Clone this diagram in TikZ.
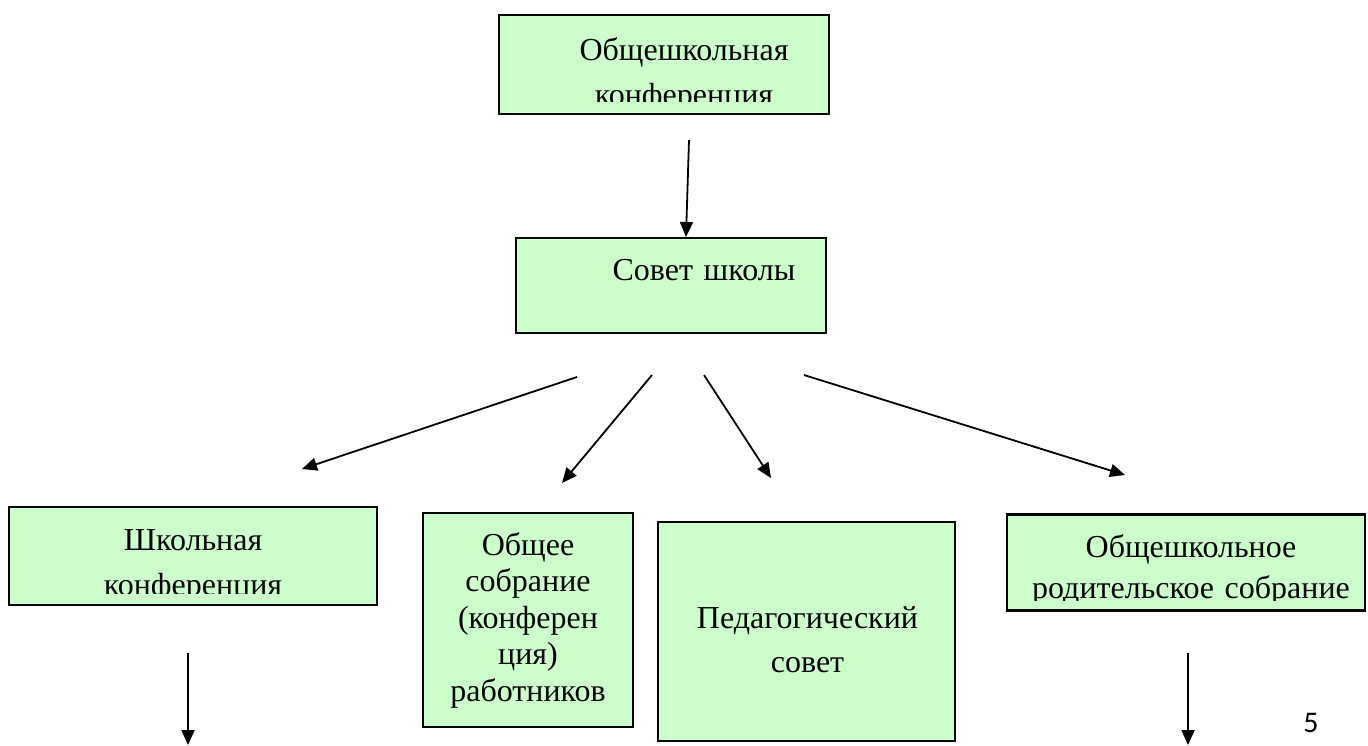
\documentclass[tikz,border=0pt]{standalone}
\usepackage{fontspec}
\setmainfont{Liberation Serif}
\newfontfamily\pagenumfont{Carlito}
\usetikzlibrary{arrows.meta}

\definecolor{boxgreen}{HTML}{CCFFCC}

\tikzset{
  orgbox/.style={draw=black, line width=2.2pt, fill=boxgreen, inner sep=0pt},
  boxtext/.style={align=center, inner sep=0pt, anchor=base},
  link/.style={line width=1.8pt, -{Triangle[length=15pt,width=13pt]}}
}

\begin{document}
\begin{tikzpicture}[x=1pt,y=-1pt]
  \useasboundingbox (0,0) rectangle (1368,745);

  % boxes
  \node[orgbox, minimum width=330pt, minimum height=99pt] (conf) at (664,64.5) {};
  \node[orgbox, minimum width=310pt, minimum height=95pt] (council) at (671,285.5) {};
  \node[orgbox, minimum width=368pt, minimum height=98pt] (schoolconf) at (193,556) {};
  \node[orgbox, minimum width=210pt, minimum height=214pt] (staff) at (528,620) {};
  \node[orgbox, minimum width=297pt, minimum height=219pt] (teachers) at (806.5,631.5) {};
  \node[orgbox, minimum width=358pt, minimum height=96pt] (parents) at (1186,562.5) {};

  % texts (cut off at the bottom like in the original boxes)
  \begin{scope}
    \clip (conf.north west) rectangle ([yshift=14pt]conf.south east);
    \node[boxtext, text width=320pt, font=\fontsize{32}{45}\selectfont] (confT) at (684,60) {Общешкольная\\конференция};
  \end{scope}
  \node[boxtext, text width=300pt, font=\fontsize{32}{45}\selectfont] (councilT) at (704,280) {Совет школы};
  \begin{scope}
    \clip (schoolconf.north west) rectangle ([yshift=13pt]schoolconf.south east);
    \node[boxtext, text width=358pt, font=\fontsize{32}{45}\selectfont] (schoolconfT) at (193,550) {Школьная\\конференция};
  \end{scope}
  \node[boxtext, text width=200pt, font=\fontsize{32}{36.5}\selectfont] (staffT) at (528,555) {Общее\\собрание\\(конферен\\ция)\\работников};
  \node[boxtext, text width=287pt, font=\fontsize{32}{44}\selectfont] (teachersT) at (807.5,628) {Педагогический\\совет};
  \begin{scope}
    \clip (parents.north west) rectangle ([yshift=11pt]parents.south east);
    \node[boxtext, text width=348pt, font=\fontsize{32}{41}\selectfont] (parentsT) at (1191,557) {Общешкольное\\родительское собрание};
  \end{scope}

  % arrow ends
  \coordinate (c1) at (689,140);
  \coordinate (c2) at (686,237);
  \coordinate (f1) at (577,377);
  \coordinate (f2) at (652,375);
  \coordinate (f3) at (704,375);
  \coordinate (f4) at (804,375);
  \coordinate (t1) at (302,469);
  \coordinate (t2) at (562,483);
  \coordinate (t3) at (771,478);
  \coordinate (t4) at (1125,475);
  \coordinate (s1) at (188,653);
  \coordinate (s2) at (188,745);
  \coordinate (p1) at (1188,653);
  \coordinate (p2) at (1188,745);

  \draw[link] (c1) -- (c2);
  \draw[link] (f1) -- (t1);
  \draw[link] (f2) -- (t2);
  \draw[link] (f3) -- (t3);
  \draw[link] (f4) -- (t4);
  \draw[link] (s1) -- (s2);
  \draw[link] (p1) -- (p2);

  \node[font=\pagenumfont\fontsize{30}{30}\selectfont] (pagenum) at (1311,723) {5};
\end{tikzpicture}
\end{document}
